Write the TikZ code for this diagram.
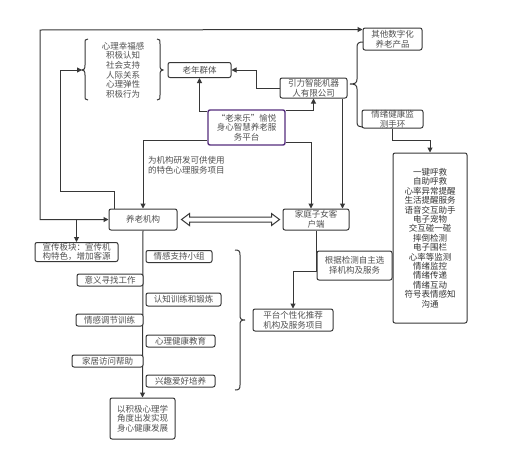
\documentclass[tikz,border=0pt]{standalone}
\usepackage{fontspec}
\setmainfont{Noto Sans CJK SC}
\usetikzlibrary{arrows.meta,calc}
\definecolor{linec}{RGB}{55,55,55}
\definecolor{txtc}{RGB}{80,80,80}
\definecolor{purp}{RGB}{85,45,125}
\newcommand{\diagfont}{\fontsize{8.5}{9.6}\selectfont}
\newcommand{\listfont}{\fontsize{8.5}{9.4}\selectfont}
\begin{document}
\begin{tikzpicture}[x=1pt,y=-1pt,
  box/.style={draw=linec, rounded corners=2pt, line width=1pt, inner sep=0pt,
              align=center, font=\diagfont, text=txtc, fill=white},
  plain/.style={inner sep=0pt, align=center, font=\diagfont, text=txtc},
  conn/.style={draw=linec, line width=1pt},
  tip/.tip={Triangle[length=5pt,width=5pt]},
  arr/.style={conn, -tip},
  brc/.style={draw=linec, line width=1pt}
]
\fill[white] (0,0) rectangle (529,469);
\useasboundingbox (0,0) rectangle (529,469);

% nodes
\node[plain] (qual) at (123,70) {心理幸福感\\积极认知\\社会支持\\人际关系\\心理弹性\\积极行为};
\node[box, minimum width=63, minimum height=15] (lq) at (199.5,70) {老年群体};
\node[box, minimum width=67, minimum height=20] (yl) at (313.5,88) {引力智能机器\\人有限公司};
\node[box, draw=purp, line width=1.4pt, minimum width=77, minimum height=35] (pt) at (246.5,127.5) {“老来乐”愉悦\\身心智慧养老服\\务平台};
\node[box, minimum width=59, minimum height=22] (qt) at (392.5,39) {其他数字化\\养老产品};
\node[box, minimum width=61, minimum height=18] (sh) at (392.5,119) {情绪健康监\\测手环};
\node[box, font=\listfont, text=black!80, minimum width=74, minimum height=170] (lb) at (430,238) {一键呼救\\自助呼救\\心率异常提醒\\生活提醒服务\\语音交互助手\\电子宠物\\交互碰一碰\\摔倒检测\\电子围栏\\心率等监测\\情绪监控\\情绪传递\\情绪互动\\符号表情感知\\沟通};
\node[box, minimum width=66, minimum height=21] (jt) at (316,219.5) {家庭子女客\\户端};
\node[box, minimum width=68, minimum height=21] (yj) at (143,219.5) {养老机构};
\node[box, minimum width=83, minimum height=19] (xc) at (76.5,252) {宣传板块：宣传机\\构特色，增加客源};
\node[plain, anchor=west, align=left] (lab) at (148,165) {为机构研发可供使用\\的特色心理服务项目};
\node[box, minimum width=75, minimum height=29] (gj) at (354.5,265.5) {根据检测自主选\\择机构及服务};
\node[box, minimum width=80, minimum height=22] (pr) at (293,320) {平台个性化推荐\\机构及服务项目};
\node[box, minimum width=65, minimum height=41] (fb) at (142.5,418.5) {以积极心理学\\角度出发实现\\身心健康发展};

% trunk below the care institution
\draw[arr] (yj.south) -- (fb.north);

\node[box, minimum width=66, minimum height=12] (r1) at (179,256.5) {情感支持小组};
\node[box, minimum width=66, minimum height=12] (l1) at (110,280) {意义寻找工作};
\node[box, minimum width=75, minimum height=13] (r2) at (183.5,299.5) {认知训练和锻炼};
\node[box, minimum width=67, minimum height=12] (l2) at (109.5,320) {情感调节训练};
\node[box, minimum width=69, minimum height=12] (r3) at (180.5,341) {心理健康教育};
\node[box, minimum width=71, minimum height=12] (l3) at (107.5,361) {家居访问帮助};
\node[box, minimum width=69, minimum height=12] (r4) at (180.5,381) {兴趣爱好培养};

% braces
\coordinate (lbtip) at (82,70);
\draw[brc] (88,39) .. controls (85,39) and (85,40) .. (85,44) -- (85,65)
  .. controls (85,69) and (84,70) .. (lbtip) .. controls (84,70) and (85,71) .. (85,75)
  -- (85,95) .. controls (85,99) and (85,100) .. (88,100);
\draw[brc] (157,39) .. controls (160,39) and (160,40) .. (160,44) -- (160,65)
  .. controls (160,69) and (161,70) .. (163,70) .. controls (161,70) and (160,71) .. (160,75)
  -- (160,95) .. controls (160,99) and (160,100) .. (157,100);
\draw[brc] (363,42) .. controls (359,42) and (357,43) .. (357,47) -- (357,79)
  .. controls (357,83) and (355,84) .. (350,84) .. controls (355,84) and (357,85) .. (357,89)
  -- (357,122) .. controls (357,126) and (359,127) .. (362,127);
\draw[brc] (235,250) .. controls (239,250) and (240,251) .. (240,255) -- (240,315)
  .. controls (240,319) and (241,320) .. (245,320) .. controls (241,320) and (240,321) .. (240,325)
  -- (240,385) .. controls (240,389) and (239,390) .. (235,390);

% connectors
\draw[conn, tip-tip] (yj.west) -| (40,30) -- ($(qt.north west)+(0,2)$);
\draw[arr] (xc.north |- yj.west) -- (xc.north);
\draw[arr] ($(yj.north west)+(6,0)$) -- ++(0,-17) -| (60,70) -- (lbtip);
\draw[arr] (yl.west) -| ($(lq.east)+(24.5,0)$) -- (lq.east);
\draw[arr] ($(pt.north west)+(0,2)$) -| (lq.south);
\draw[arr] ($(pt.north east)+(0,1)$) -| (yl.south);
\draw[arr] ($(pt.south west)+(0,-5)$) -| (yj.north);
\draw[arr] ($(pt.south east)+(0,-3)$) -| ($(jt.north)+(-5,0)$);
\coordinate (y1) at ($(yl.south east)+(-5,0)$);
\draw[arr] (y1) -- (y1 |- jt.north);
\draw[arr] (sh.south) -- ++(0,12) -| (lb.north);
\draw[arr] (jt.south) -- ++(0,40.5) -| (pr.north);

% hollow double arrow between institution and family client
\coordinate (da) at ($(yj.east)+(4,0)$);
\coordinate (db) at ($(jt.west)+(-3,0)$);
\draw[conn, fill=white] (da) -- ++(8,-6) -- ++(0,3.5) -- ($(db)+(-8,-2.5)$) -- ++(0,-3.5)
  -- (db) -- ++(-8,6) -- ++(0,-3.5) -- ($(da)+(8,2.5)$) -- ++(0,3.5) -- cycle;
\end{tikzpicture}
\end{document}
